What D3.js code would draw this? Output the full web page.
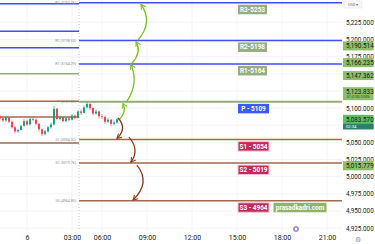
<!DOCTYPE html>
<html>
<head>
<meta charset="utf-8">
<script src="https://cdn.jsdelivr.net/npm/d3@7"></script>
<style>
body { margin: 0; background: #fff; }
svg { display: block; font-family: Roboto, "Liberation Sans", sans-serif; }
</style>
</head>
<body>
<svg id="chart" width="375" height="244"></svg>
<script>
// x axis ticks (positions in bar-hours, TradingView squeezes the session gap)
var xTickLabels = ["6", "03:00", "06:00", "09:00", "12:00", "15:00", "18:00", "21:00"];
var xTickTimes = [0, 3, 5, 8, 11, 14, 17, 20];

var priceTicks = [4925, 4950, 4975, 5000, 5025, 5050, 5075, 5100, 5125, 5150, 5175, 5200, 5225, 5250];

// pivot levels for the day
var levelNames = ["R3", "R2", "R1", "P", "S1", "S2", "S3"];
var levelValues = [5253.46, 5198.55, 5164.29, 5109.02, 5054.02, 5019.76, 4964.85];
var levelLabels = ["R3-5253", "R2-5198", "R1-5164", "P - 5109", "S1 - 5054", "S2 - 5019", "S3 - 4964"];
// previous day's levels (left of the session break)
var prevLevelValues = [5252, 5212, 5188, 5150, 5110, 5087, 5049];

// price badges on the right scale
var badgeValues = [5190.514, 5166.235, 5147.362, 5123.833, 5083.570, 5015.779];

// candles, one every 0.2 units starting at -1.8
var candleStart = -1.8, candleStep = 0.2;
var closes = [5085,5082,5086,5080,5072,5066,5068,5074,5081,5076,5084,5083,5077,5069,5062,5066,5072,5076,5099,5084,
              5086,5081,5085,5083,5089,5086,5095,5093,5101,5106,5100,5092,5095,5088,5087,5080,5083,5077,5079,5083.57];
var highs  = [5090,5087,5088,5087,5082,5074,5070,5076,5084,5083,5086,5087,5085,5078,5070,5068,5074,5079,5103,5100,
              5089,5088,5087,5087,5091,5090,5097,5098,5104,5109,5107,5101,5098,5096,5091,5089,5086,5084,5082,5086];
var lows   = [5083,5080,5080,5078,5070,5063,5064,5067,5073,5074,5075,5081,5075,5066,5059,5060,5064,5070,5075,5082,
              5082,5079,5079,5081,5082,5084,5085,5090,5092,5099,5097,5089,5090,5085,5084,5077,5078,5074,5075,5077];
var firstOpen = 5087;

// hand drawn arrows: [t0, p0, t1, p1]
var upArrows = [[6.13, 5082.5, 6.40, 5106.5], [6.67, 5110.2, 6.93, 5163.5], [7.0, 5165.6, 7.27, 5196.5], [7.4, 5199.1, 7.6, 5251]];
var downArrows = [[6.07, 5085.4, 6.0, 5055.5], [6.8, 5057.7, 6.93, 5021], [7.33, 5016.9, 7.07, 4966]];
var upBulge = [3, 5, 4, 7];
var downBulge = [5, 5, 8];

var svg = d3.select("#chart");
var plotRight = 342, plotBottom = 231, sessionBreak = 3.47;

var x = d3.scaleLinear().domain([0, 20]).range([27, 327]);
var y = d3.scaleLinear().domain([4925, 5225]).range([228.1, 22.3]);

var levelColor = function(i) { return i < 3 ? "#3f4ff2" : (i == 3 ? "#93ad72" : "#a3694a"); };

// faint grid
svg.append("g").selectAll("line").data(xTickTimes).enter().append("line")
  .attr("x1", function(d) { return x(d); }).attr("x2", function(d) { return x(d); })
  .attr("y1", 0).attr("y2", plotBottom)
  .attr("stroke", "#f3f4f7").attr("stroke-width", 1);
svg.append("g").selectAll("line").data(priceTicks).enter().append("line")
  .attr("x1", 0).attr("x2", plotRight)
  .attr("y1", function(d) { return y(d); }).attr("y2", function(d) { return y(d); })
  .attr("stroke", "#f3f4f7").attr("stroke-width", 1);

// session break
svg.append("line")
  .attr("x1", x(sessionBreak)).attr("x2", x(sessionBreak))
  .attr("y1", 0).attr("y2", plotBottom)
  .attr("stroke", "#c8cad0").attr("stroke-dasharray", "1,2");

// previous day levels
svg.append("g").selectAll("line").data(prevLevelValues).enter().append("line")
  .attr("x1", 0).attr("x2", x(sessionBreak))
  .attr("y1", function(d) { return y(d); }).attr("y2", function(d) { return y(d); })
  .attr("stroke", function(d, i) { return levelColor(i); })
  .attr("stroke-width", 1.5);

// today's levels
svg.append("g").selectAll("line").data(levelValues).enter().append("line")
  .attr("x1", x(sessionBreak)).attr("x2", plotRight)
  .attr("y1", function(d) { return y(d); }).attr("y2", function(d) { return y(d); })
  .attr("stroke", function(d, i) { return levelColor(i); })
  .attr("stroke-width", function(d, i) { return i == 3 ? 2 : 1.5; });

// small indicator labels
svg.append("g").selectAll("text").data(levelValues).enter().append("text")
  .attr("x", x(sessionBreak) - 3).attr("y", function(d) { return y(d) + 1.3; })
  .attr("text-anchor", "end")
  .style("font-size", "3.6px").style("fill", "#8a8d96")
  .text(function(d, i) { return levelNames[i] + " (" + d.toFixed(2) + ")"; });

// candles
var candles = closes.map(function(c, i) {
  return { t: candleStart + i * candleStep, o: i == 0 ? firstOpen : closes[i - 1], c: c, h: highs[i], l: lows[i] };
});
var cg = svg.append("g").selectAll("g").data(candles).enter().append("g");
cg.append("line")
  .attr("x1", function(d) { return x(d.t); }).attr("x2", function(d) { return x(d.t); })
  .attr("y1", function(d) { return y(d.h); }).attr("y2", function(d) { return y(d.l); })
  .attr("stroke", function(d) { return d.c >= d.o ? "#089981" : "#f23645"; })
  .attr("stroke-width", 0.6);
cg.append("rect")
  .attr("x", function(d) { return x(d.t) - 0.9; }).attr("width", 1.8)
  .attr("y", function(d) { return y(Math.max(d.o, d.c)); })
  .attr("height", function(d) { return Math.max(0.6, Math.abs(y(d.o) - y(d.c))); })
  .attr("fill", function(d) { return d.c >= d.o ? "#089981" : "#f23645"; });

// arrows
var defs = svg.append("defs");
[["up", "#7cc21e"], ["down", "#8e3a1c"]].forEach(function(m) {
  defs.append("marker").attr("id", "head-" + m[0])
    .attr("viewBox", "0 0 10 10").attr("refX", 8).attr("refY", 5)
    .attr("markerWidth", 5).attr("markerHeight", 5).attr("orient", "auto")
    .append("path").attr("d", "M1,1 L8,5 L1,9").attr("fill", "none")
    .attr("stroke", m[1]).attr("stroke-width", 1.6);
});
function curve(a, bulge) {
  var x0 = x(a[0]), y0 = y(a[1]), x1 = x(a[2]), y1 = y(a[3]);
  var p = d3.path();
  p.moveTo(x0, y0);
  p.quadraticCurveTo((x0 + x1) / 2 + bulge * 2, (y0 + y1) / 2, x1, y1);
  return p.toString();
}
svg.append("g").selectAll("path").data(upArrows).enter().append("path")
  .attr("d", function(d, i) { return curve(d, upBulge[i]); })
  .attr("fill", "none").attr("stroke", "#7cc21e").attr("stroke-width", 1.3)
  .attr("marker-end", "url(#head-up)");
svg.append("g").selectAll("path").data(downArrows).enter().append("path")
  .attr("d", function(d, i) { return curve(d, downBulge[i]); })
  .attr("fill", "none").attr("stroke", "#8e3a1c").attr("stroke-width", 1.3)
  .attr("marker-end", "url(#head-down)");

// level tags
var boxColor = function(i) { return i < 3 ? "#95ae82" : (i == 3 ? "#3d5afe" : "#c02a5c"); };
var tags = svg.append("g").selectAll("g").data(levelValues).enter().append("g")
  .attr("transform", function(d) { return "translate(238," + (y(d) + 2) + ")"; });
tags.append("rect")
  .attr("width", function(d, i) { return i < 3 ? 29 : 31; }).attr("height", 9.5)
  .attr("fill", function(d, i) { return boxColor(i); })
  .attr("stroke", function(d, i) { return i > 3 ? "#f6c9d8" : "none"; }).attr("stroke-width", 1);
tags.append("text")
  .attr("x", function(d, i) { return i < 3 ? 14.5 : 15.5; }).attr("y", 7)
  .attr("text-anchor", "middle")
  .style("font-size", "6.4px").style("font-weight", "bold").style("fill", "#fff")
  .text(function(d, i) { return levelLabels[i]; });

// watermark tag
svg.append("rect").attr("x", 273.5).attr("y", y(levelValues[6]) + 2)
  .attr("width", 53).attr("height", 9.5).attr("fill", "#8db562");
svg.append("text").attr("x", 300).attr("y", y(levelValues[6]) + 9)
  .attr("text-anchor", "middle")
  .style("font-size", "6.4px").style("font-weight", "bold").style("fill", "#fff")
  .text("prasadkadri.com");

// event icon
svg.append("circle").attr("cx", 296).attr("cy", 229).attr("r", 3).attr("fill", "#a38fe0");
svg.append("circle").attr("cx", 296).attr("cy", 229).attr("r", 1.2).attr("fill", "#fff");

// badge boxes (extent on the scale)
var badgeTop = function(d) { return y(d) - 4.5; };
var badgeH = function(i) { return i == 3 ? 13 : (i == 4 ? 14.5 : 9); };

// right price scale - tick labels hidden by badges are not drawn, like TradingView
var visibleTicks = priceTicks.filter(function(t) {
  var a = y(t) - 3, b = y(t) + 3;
  if (a < 8.5) return false;
  return !badgeValues.some(function(v, i) {
    var top = badgeTop(v), bot = top + badgeH(i);
    return Math.min(b, bot) - Math.max(a, top) > 1.5;
  });
});
svg.append("rect").attr("x", plotRight + 1).attr("y", 0).attr("width", 375 - plotRight).attr("height", 244).attr("fill", "#fff");
var yAxis = svg.append("g").attr("transform", "translate(346,0)")
  .call(d3.axisRight(y).tickValues(visibleTicks).tickFormat(d3.format(",.3f")).tickSize(0).tickPadding(0));
yAxis.select(".domain").remove();
yAxis.selectAll("text").style("font-size", "6.3px").style("fill", "#131722").style("font-family", "Roboto, sans-serif");

// badges on the price scale
var bg = svg.append("g").selectAll("g").data(badgeValues).enter().append("g")
  .attr("transform", function(d) { return "translate(343," + badgeTop(d) + ")"; });
bg.append("rect")
  .attr("width", 30.5)
  .attr("height", function(d, i) { return badgeH(i); })
  .attr("fill", function(d, i) { return i == 4 ? "#5cbf5e" : "#8cbf6a"; });
bg.filter(function(d, i) { return i == 4; }).append("rect")
  .attr("y", 9).attr("width", 30.5).attr("height", 5.5).attr("fill", "#2e7f73");
bg.append("text")
  .attr("x", 3).attr("y", 6.8)
  .style("font-size", "6.3px").style("fill", "#131722")
  .text(function(d) { return d3.format(",.3f")(d); });
bg.filter(function(d, i) { return i == 3; }).append("text")
  .attr("x", 15).attr("y", 11.3).attr("text-anchor", "middle")
  .style("font-size", "3.2px").style("fill", "#2b3a22").text("Δ1 (0.00) 0.00%");
bg.filter(function(d, i) { return i == 4; }).append("text")
  .attr("x", 3).attr("y", 13.3)
  .style("font-size", "4.2px").style("fill", "#fff").text("02:34");

// currency tag at top
svg.append("rect").attr("x", 344).attr("y", 1).attr("width", 18).attr("height", 7)
  .attr("fill", "#f7f8fa").attr("stroke", "#e0e3eb").attr("stroke-width", 0.5);
svg.append("text").attr("x", 353).attr("y", 6).attr("text-anchor", "middle")
  .style("font-size", "3.8px").style("fill", "#6a6d78").text("USD ▾");

// x axis
var xAxis = svg.append("g").attr("transform", "translate(0," + (plotBottom + 1) + ")")
  .call(d3.axisBottom(x).tickValues(xTickTimes).tickFormat(function(d, i) { return xTickLabels[i]; }).tickSize(0).tickPadding(3));
xAxis.select(".domain").remove();
xAxis.selectAll("text").style("font-size", "7px").style("fill", "#131722").style("font-family", "Roboto, sans-serif");

// settings gear
svg.append("text").attr("x", 358).attr("y", 241.5).attr("text-anchor", "middle")
  .style("font-size", "7px").style("fill", "#9598a1").text("⚙");
</script>
</body>
</html>
